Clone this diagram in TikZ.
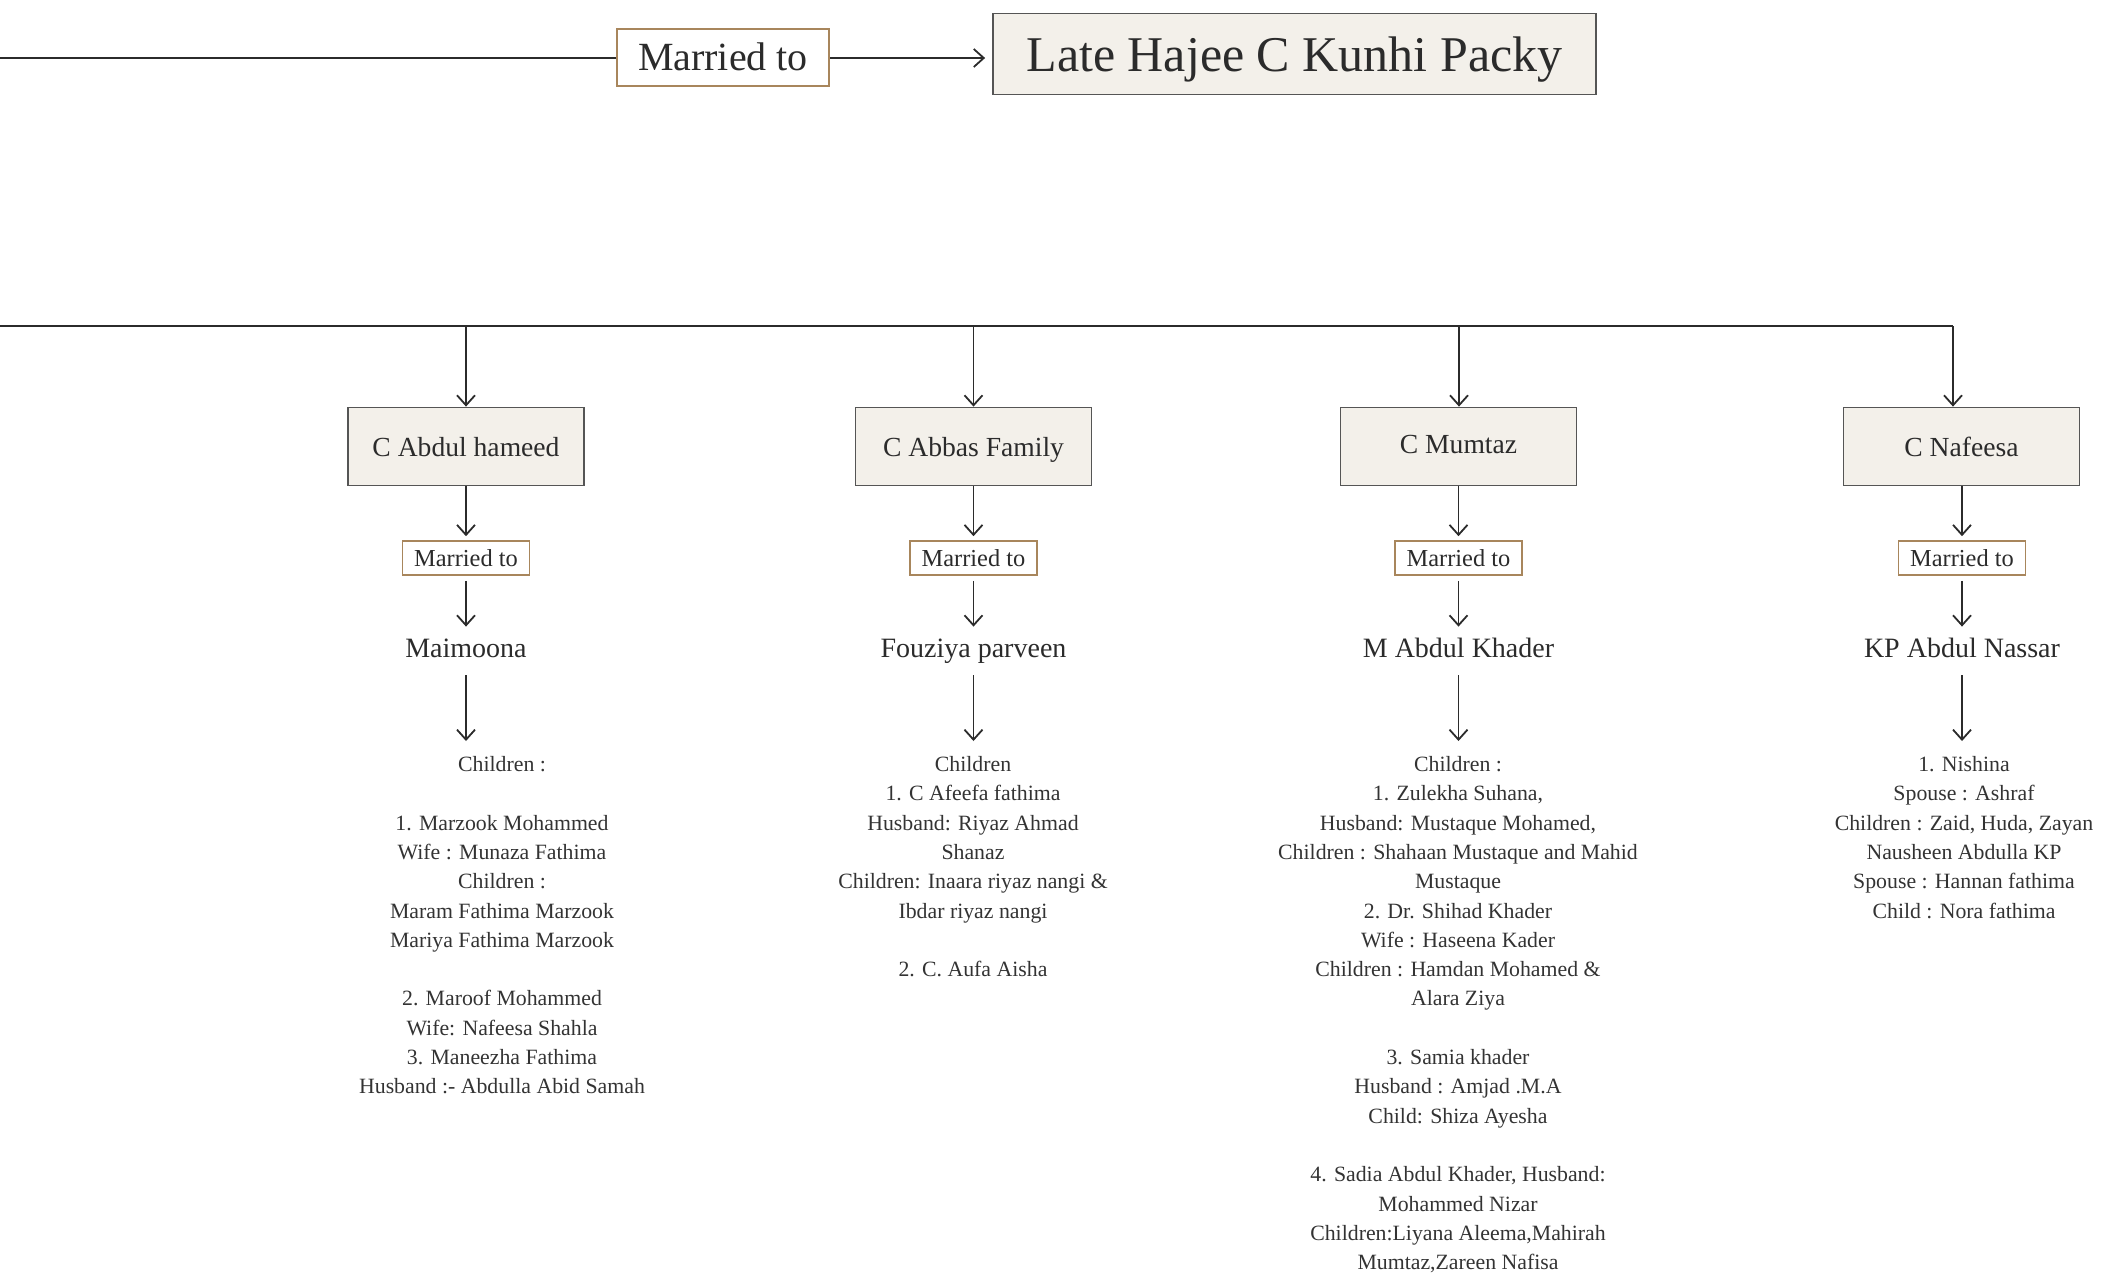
\documentclass[tikz,border=0pt]{standalone}
\usepackage{fontspec}
\setmainfont{Liberation Serif}
\usetikzlibrary{arrows.meta}
\definecolor{boxfill}{HTML}{F3F0EA}
\definecolor{boxline}{HTML}{555555}
\definecolor{tanline}{HTML}{A8865C}
\definecolor{ink}{HTML}{2B2B2B}
\definecolor{txt}{HTML}{333333}
\begin{document}
\begin{tikzpicture}[x=0.5pt,y=-0.5pt,
  conn/.style={draw=ink,line width=0.9pt},
  arr/.style={conn,-{Straight Barb[length=5pt,width=9pt,line width=0.9pt]}},
  person/.style={draw=boxline,fill=boxfill,line width=0.9pt,minimum width=118pt,minimum height=39pt,inner sep=0pt,text=ink,text depth=0pt,font=\fontsize{13.8pt}{16pt}\selectfont},
  wed/.style={draw=tanline,fill=white,line width=0.8pt,minimum width=63.5pt,minimum height=17pt,inner sep=0pt,text=ink,font=\fontsize{12.2pt}{14pt}\selectfont},
  spouse/.style={inner sep=0pt,text height=9.7pt,text depth=3pt,text=ink,font=\fontsize{14pt}{16pt}\selectfont},
  kids/.style={inner sep=0pt,align=center,anchor=north,text=txt,font=\fontsize{10.9pt}{14.65pt}\selectfont}
]
\useasboundingbox (0,0) rectangle (2116,1275);

% top row
\node[wed,minimum width=106pt,minimum height=28.5pt,line width=1pt,font=\fontsize{20pt}{24pt}\selectfont] (mtop) at (723,57) {Married to};
\node[person,minimum width=301.5pt,minimum height=40.5pt,font=\fontsize{25pt}{30pt}\selectfont] (late) at (1294.5,54) {Late Hajee C Kunhi Packy};
\coordinate (lt) at (0,58);
\draw[conn] (lt) -- (lt -| mtop.west);
\draw[arr,shorten >=3.5pt] (lt -| mtop.east) -- (lt -| late.west);

% bus
\coordinate (busL) at (0,326);
\coordinate (b1) at (466,326);
\coordinate (b2) at (973.5,326);
\coordinate (b3) at (1459,326);
\coordinate (b4) at (1953,326);

% column 1
\node[person] (c1) at (466,446.5) {C Abdul hameed};
\node[wed] (m1) at (466,558) {Married to};
\node[spouse,anchor=base] (s1) at (466,657) {Maimoona};
\node[kids] (k1) at (502,756) {Children :\\[14.65pt]
1. Marzook Mohammed\\
Wife : Munaza Fathima\\
Children :\\
Maram Fathima Marzook\\
Mariya Fathima Marzook\\[14.65pt]
2. Maroof Mohammed\\
Wife: Nafeesa Shahla\\
3. Maneezha Fathima\\
Husband :- Abdulla Abid Samah};

% column 2
\node[person] (c2) at (973.5,446.5) {C Abbas Family};
\node[wed] (m2) at (973.5,558) {Married to};
\node[spouse,anchor=base] (s2) at (973.5,657) {Fouziya parveen};
\node[kids] (k2) at (973,756) {Children\\
1. C Afeefa fathima\\
Husband: Riyaz Ahmad\\
Shanaz\\
Children: Inaara riyaz nangi \&\\
Ibdar riyaz nangi\\[14.65pt]
2. C. Aufa Aisha};

% column 3
\node[person,text depth=2pt] (c3) at (1458.5,446.5) {C Mumtaz};
\node[wed] (m3) at (1458.5,558) {Married to};
\node[spouse,anchor=base] (s3) at (1458.5,657) {M Abdul Khader};
\node[kids] (k3) at (1458,756) {Children :\\
1. Zulekha Suhana,\\
Husband: Mustaque Mohamed,\\
Children : Shahaan Mustaque and Mahid\\
Mustaque\\
2. Dr. Shihad Khader\\
Wife : Haseena Kader\\
Children : Hamdan Mohamed \&\\
Alara Ziya\\[14.65pt]
3. Samia khader\\
Husband : Amjad .M.A\\
Child: Shiza Ayesha\\[14.65pt]
4. Sadia Abdul Khader, Husband:\\
Mohammed Nizar\\
Children:Liyana Aleema,Mahirah\\
Mumtaz,Zareen Nafisa};

% column 4
\node[person] (c4) at (1961.5,446.5) {C Nafeesa};
\node[wed] (m4) at (1962,558) {Married to};
\node[spouse,anchor=base] (s4) at (1962,657) {KP Abdul Nassar};
\node[kids] (k4) at (1964,756) {1. Nishina\\
Spouse : Ashraf\\
Children : Zaid, Huda, Zayan\\
Nausheen Abdulla KP\\
Spouse : Hannan fathima\\
Child : Nora fathima};

% bus connectors
\draw[conn] (busL) -- (b4);
\draw[arr] (b1) -- (b1 |- c1.north);
\draw[arr] (b2) -- (b2 |- c2.north);
\draw[arr] (b3) -- (b3 |- c3.north);
\draw[arr] (b4) -- (b4 |- c4.north);

% column connectors
\foreach \i in {1,2,3,4}{
  \draw[arr,shorten >=2pt] (c\i.south -| m\i.north) -- (m\i.north);
  \draw[arr,shorten <=2.5pt,shorten >=5.3pt] (m\i.south) -- (s\i.north);
  \draw[arr,shorten <=6pt,shorten >=7.5pt] (s\i.south) -- (s\i.south |- k\i.north);
}
\end{tikzpicture}
\end{document}
